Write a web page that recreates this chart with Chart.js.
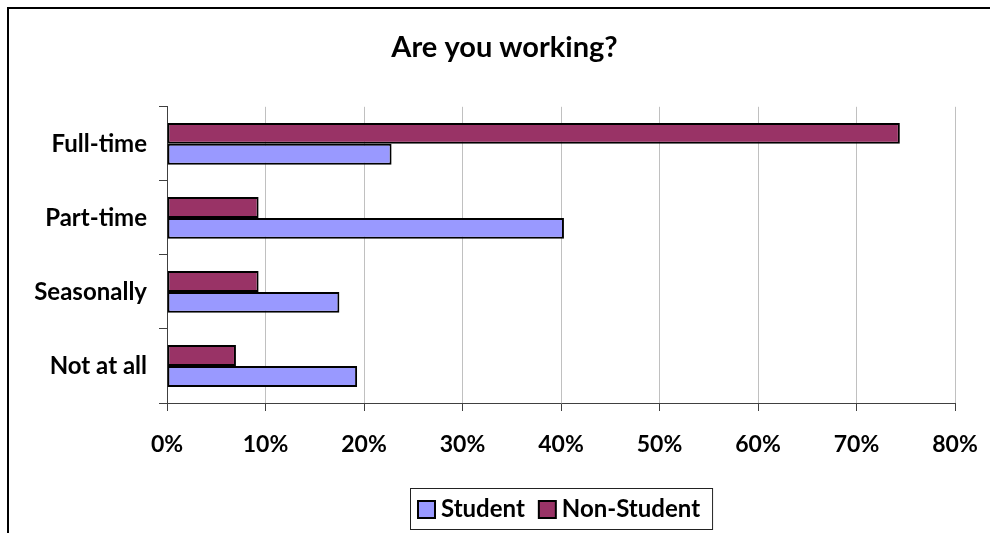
<!DOCTYPE html>
<html>
<head>
<meta charset="utf-8">
<script src="https://cdn.jsdelivr.net/npm/chart.js@4/dist/chart.umd.min.js"></script>
<style>
  html, body { margin: 0; padding: 0; background: #fff; }
  #wrap { position: relative; width: 990px; height: 533px; }
</style>
</head>
<body>
<div id="wrap"><canvas id="myChart" width="990" height="533"></canvas></div>
<script>
const categories = ['Full-time', 'Part-time', 'Seasonally', 'Not at all'];
const nonStudent = [74.4, 9.3, 9.3, 7.0];
const student = [22.8, 40.3, 17.5, 19.3];
const xTicks = ['0%', '10%', '20%', '30%', '40%', '50%', '60%', '70%', '80%'];

const FONT = 'Lato, "Open Sans", sans-serif';
Chart.defaults.color = '#000';
Chart.defaults.font.family = FONT;
Chart.defaults.font.weight = 'bold';

// outer frame (only top and left edges are visible in the picture)
const framePlugin = {
  id: 'frame',
  afterLayout(chart) {
    // title sits a bit right of the canvas centre in the original
    chart.titleBlock.left += 36;
  },
  beforeDraw(chart) {
    const c = chart.ctx;
    c.save();
    c.strokeStyle = '#000';
    c.lineWidth = 2;
    c.beginPath();
    c.moveTo(8, chart.height);
    c.lineTo(8, 8);
    c.lineTo(chart.width, 8);
    c.stroke();
    c.restore();
  }
};

// boxed legend, Student first
const boxLegend = {
  id: 'boxLegend',
  afterDraw(chart) {
    const c = chart.ctx;
    const area = chart.chartArea;
    const items = chart.data.datasets.slice().reverse();
    const box = 17, gap = 6, between = 14, padL = 8, padR = 12;
    c.save();
    c.font = 'bold 24px ' + FONT;
    let total = padL + padR;
    items.forEach((d, i) => {
      total += box + gap + c.measureText(d.label).width;
      if (i > 0) total += between;
    });
    const left = Math.round((area.left + area.right) / 2 - total / 2);
    const top = area.bottom + 85;
    const h = 41;
    c.strokeStyle = '#222';
    c.lineWidth = 1;
    c.strokeRect(left + 0.5, top + 0.5, total, h);
    let x = left + padL;
    const cy = top + h / 2 + 1;
    items.forEach((d, i) => {
      if (i > 0) x += between;
      c.fillStyle = d.backgroundColor;
      c.fillRect(x, cy - box / 2, box, box);
      c.strokeStyle = '#000';
      c.lineWidth = 2;
      c.strokeRect(x, cy - box / 2, box, box);
      x += box + gap;
      c.fillStyle = '#000';
      c.textBaseline = 'middle';
      c.textAlign = 'left';
      c.fillText(d.label, x, cy);
      x += c.measureText(d.label).width;
    });
    c.restore();
  }
};

new Chart(document.getElementById('myChart'), {
  type: 'bar',
  data: {
    labels: categories,
    datasets: [{
      label: 'Non-Student',
      data: nonStudent,
      backgroundColor: '#993366',
      borderColor: '#000',
      borderWidth: 2,
      borderSkipped: false,
      categoryPercentage: 0.565,
      barPercentage: 1
    }, {
      label: 'Student',
      data: student,
      backgroundColor: '#9999FF',
      borderColor: '#000',
      borderWidth: 2,
      borderSkipped: false,
      categoryPercentage: 0.565,
      barPercentage: 1
    }]
  },
  options: {
    indexAxis: 'y',
    responsive: false,
    animation: false,
    layout: {
      padding: { left: 18, right: 35, top: 0, bottom: 70 }
    },
    scales: {
      x: {
        min: 0,
        max: 80,
        ticks: {
          stepSize: 10,
          padding: 20,
          font: { size: 23, weight: 'bold' },
          callback: (v, i) => xTicks[i]
        },
        grid: {
          color: '#c0c0c0',
          tickColor: '#404040',
          tickLength: 8,
          lineWidth: 1
        },
        border: { display: true, color: '#404040', width: 1 },
        afterFit(scale) {
          scale.height = 60;
          scale.paddingLeft = 0;
          scale.paddingRight = 0;
        }
      },
      y: {
        ticks: {
          padding: 12,
          font: { size: 24, weight: 'bold' }
        },
        grid: {
          offset: true,
          drawOnChartArea: false,
          tickColor: '#404040',
          tickLength: 8
        },
        border: { display: true, color: '#404040', width: 1 },
        afterFit(scale) {
          scale.width = 149;
          scale.paddingTop = 0;
          scale.paddingBottom = 0;
        }
      }
    },
    plugins: {
      title: {
        display: true,
        text: 'Are you working?',
        color: '#000',
        font: { size: 29, weight: 'bold' },
        padding: { top: 30, bottom: 42 }
      },
      legend: { display: false },
      tooltip: { enabled: false }
    }
  },
  plugins: [framePlugin, boxLegend]
});
</script>
</body>
</html>
